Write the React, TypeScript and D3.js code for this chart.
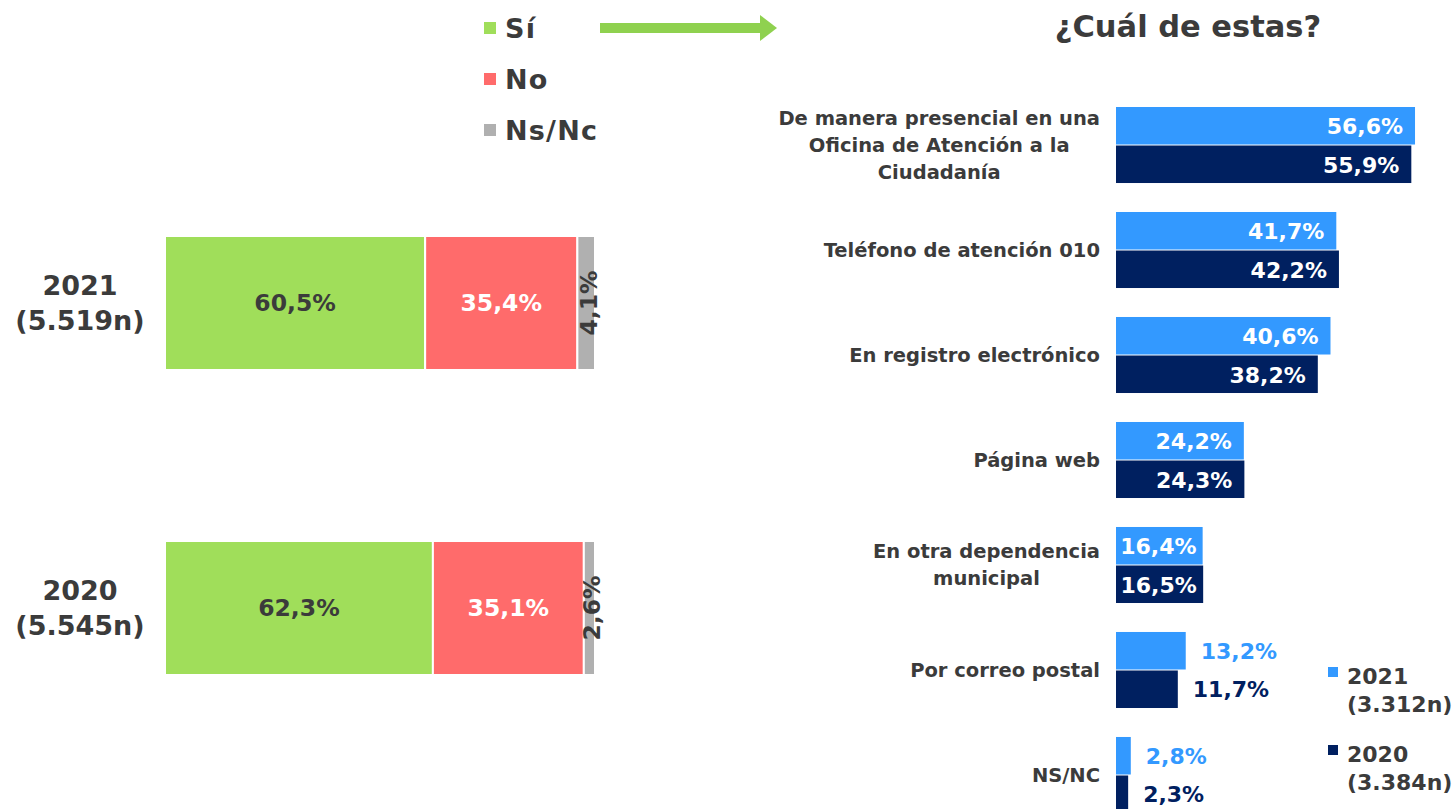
import React, { useEffect, useRef } from "react";
import * as d3 from "d3";

const years = ["2021", "2020"];
const yearN = ["(5.519n)", "(5.545n)"];
const siVals = [60.5, 62.3];
const noVals = [35.4, 35.1];
const nsVals = [4.1, 2.6];
const legendLeft = ["Sí", "No", "Ns/Nc"];

const categories = [
  ["De manera presencial en una", "Oficina de Atención a la", "Ciudadanía"],
  ["Teléfono de atención 010"],
  ["En registro electrónico"],
  ["Página web"],
  ["En otra dependencia", "municipal"],
  ["Por correo postal"],
  ["NS/NC"],
];
const vals2021 = [56.6, 41.7, 40.6, 24.2, 16.4, 13.2, 2.8];
const vals2020 = [55.9, 42.2, 38.2, 24.3, 16.5, 11.7, 2.3];
const legendRight = [["2021", "(3.312n)"], ["2020", "(3.384n)"]];

const FONT = "'DejaVu Sans', Verdana, sans-serif";
const TXT = "#3b3b3b";
const GREEN = "#a0de5a";
const RED = "#ff6b6b";
const GRAY = "#b0b0b0";
const LIGHT = "#3399ff";
const DARK = "#002060";
const ARROW = "#8fd14f";

const fmt = (v: number) => v.toFixed(1).replace(".", ",") + "%";

export default function App() {
  const ref = useRef<SVGSVGElement>(null);
  useEffect(() => {
    const svg = d3.select(ref.current);
    svg.selectAll("*").remove();
    svg.attr("font-family", FONT).attr("font-weight", "bold");

    // ---------- Left legend ----------
    const legColors = [GREEN, RED, GRAY];
    const legY = d3.scalePoint<string>().domain(legendLeft).range([28, 130]);
    legendLeft.forEach((l, i) => {
      const y = legY(l)!;
      svg.append("rect").attr("x", 484).attr("y", y - 6).attr("width", 12).attr("height", 12).attr("fill", legColors[i]);
      svg.append("text").attr("x", 505).attr("y", y + 10).attr("font-size", 27)
        .attr("letter-spacing", 1.2).attr("fill", TXT).text(l);
    });
    // arrow
    svg.append("rect").attr("x", 600).attr("y", 23).attr("width", 162).attr("height", 10).attr("fill", ARROW);
    svg.append("path").attr("d", "M760,15 L777,28 L760,41 Z").attr("fill", ARROW);

    // ---------- Left stacked bars ----------
    const xL = d3.scaleLinear().domain([0, 100]).range([165, 595]);
    const yL = d3.scaleBand<string>().domain(years).range([236, 675]).paddingInner(0.5607).paddingOuter(0);
    years.forEach((yr, i) => {
      const y0 = yL(yr)!;
      const h = yL.bandwidth();
      const segs = [
        { v0: 0, v1: siVals[i], c: GREEN, tc: TXT },
        { v0: siVals[i], v1: siVals[i] + noVals[i], c: RED, tc: "#ffffff" },
        { v0: siVals[i] + noVals[i], v1: siVals[i] + noVals[i] + nsVals[i], c: GRAY, tc: TXT },
      ];
      segs.forEach((s, k) => {
        svg.append("rect")
          .attr("x", xL(s.v0)).attr("y", y0)
          .attr("width", xL(s.v1) - xL(s.v0)).attr("height", h)
          .attr("fill", s.c).attr("stroke", "#ffffff").attr("stroke-width", 2);
        const cx = (xL(s.v0) + xL(s.v1)) / 2;
        const cy = y0 + h / 2;
        const v = s.v1 - s.v0;
        if (k < 2) {
          svg.append("text").attr("x", cx).attr("y", cy + 8).attr("text-anchor", "middle")
            .attr("font-size", 23.5).attr("fill", s.tc).text(fmt(v));
        } else {
          svg.append("text").attr("transform", `translate(${cx + 11},${cy}) rotate(-90)`)
            .attr("text-anchor", "middle").attr("font-size", 23.5).attr("fill", s.tc).text(fmt(v));
        }
      });
      svg.append("text").attr("x", 80).attr("y", y0 + h / 2 - 8).attr("text-anchor", "middle")
        .attr("font-size", 27).attr("fill", TXT).text(yr);
      svg.append("text").attr("x", 80).attr("y", y0 + h / 2 + 27).attr("text-anchor", "middle")
        .attr("font-size", 27).attr("fill", TXT).text(yearN[i]);
    });

    // ---------- Right title ----------
    svg.append("text").attr("x", 1188).attr("y", 37).attr("text-anchor", "middle")
      .attr("font-size", 30.5).attr("fill", TXT).text("¿Cuál de estas?");

    // ---------- Right grouped bars ----------
    const keys = categories.map((c) => c.join(" "));
    const xR = d3.scaleLinear().domain([0, 100]).range([1116, 1116 + 528.3]);
    const yR = d3.scaleBand<string>().domain(keys).range([107, 813]).paddingInner(0.276).paddingOuter(0);
    const bh = yR.bandwidth() / 2;
    keys.forEach((key, i) => {
      const g0 = yR(key)!;
      const series = [
        { v: vals2021[i], c: LIGHT, y: g0 },
        { v: vals2020[i], c: DARK, y: g0 + bh + 0.5 },
      ];
      series.forEach((s) => {
        svg.append("rect").attr("x", xR(0)).attr("y", s.y).attr("width", xR(s.v) - xR(0))
          .attr("height", bh - 0.5).attr("fill", s.c);
        const inside = s.v >= 15;
        const t = svg.append("text")
          .attr("y", s.y + bh / 2 + 8)
          .attr("text-anchor", inside ? "end" : "start")
          .attr("font-size", 22)
          .attr("fill", inside ? "#ffffff" : s.c)
          .text(fmt(s.v));
        if (inside) {
          const tw = (t.node() as SVGTextElement).getComputedTextLength();
          const bw = xR(s.v) - xR(0);
          const pad = Math.max(3, Math.min(12, (bw - tw) / 2 + 1));
          t.attr("x", xR(s.v) - pad);
        } else {
          t.attr("x", xR(s.v) + 15);
        }
      });
      // category label (centered block, right edge at 1100)
      const lines = categories[i];
      const lh = 27;
      const cy = g0 + yR.bandwidth() / 2;
      const gL = svg.append("g");
      const texts = lines.map((ln, j) =>
        gL.append("text")
          .attr("y", cy + (j - (lines.length - 1) / 2) * lh + 7)
          .attr("font-size", 19.5).attr("fill", TXT).attr("text-anchor", "middle").text(ln)
      );
      const maxW = d3.max(texts, (t) => (t.node() as SVGTextElement).getComputedTextLength()) || 0;
      texts.forEach((t) => t.attr("x", 1100 - maxW / 2));
    });

    // ---------- Right legend ----------
    const legC = [LIGHT, DARK];
    const yLeg = d3.scalePoint<string>().domain(legendRight.map((d) => d[0])).range([672, 750]);
    legendRight.forEach((l, i) => {
      const y = yLeg(l[0])!;
      svg.append("rect").attr("x", 1328).attr("y", y - 5).attr("width", 10).attr("height", 10).attr("fill", legC[i]);
      svg.append("text").attr("x", 1347).attr("y", y + 12).attr("font-size", 22).attr("fill", TXT).text(l[0]);
      svg.append("text").attr("x", 1347).attr("y", y + 40).attr("font-size", 22).attr("fill", TXT).text(l[1]);
    });
  }, []);

  return (
    <svg
      ref={ref}
      width={1456}
      height={809}
      style={{ position: "absolute", left: 0, top: 0, background: "#ffffff" }}
    />
  );
}
